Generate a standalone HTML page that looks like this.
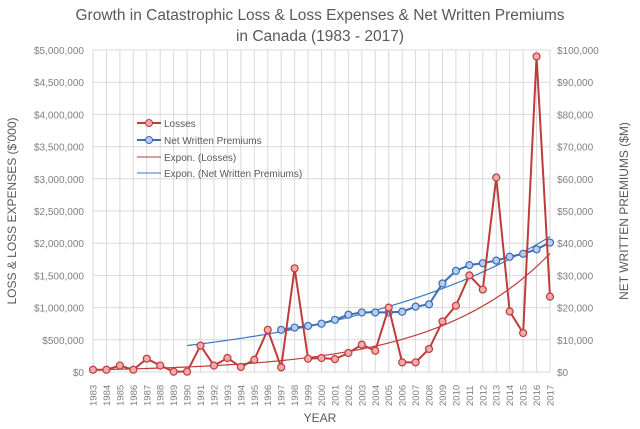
<!DOCTYPE html>
<html><head><meta charset="utf-8"><style>
body{margin:0;background:#fff;}
svg{display:block;font-family:"Liberation Sans",sans-serif;}
</style></head><body>
<svg id="chart" width="640" height="429">
<text x="320" y="20" text-anchor="middle" font-size="15.5" fill="#595959">Growth in Catastrophic Loss &amp; Loss Expenses &amp; Net Written Premiums</text>
<text x="320" y="41" text-anchor="middle" font-size="15.5" fill="#595959">in Canada (1983 - 2017)</text>
<text transform="translate(16,211) rotate(-90)" text-anchor="middle" font-size="12" fill="#595959">LOSS &amp; LOSS EXPENSES ($'000)</text>
<text transform="translate(628,211) rotate(-90)" text-anchor="middle" font-size="12" fill="#595959">NET WRITTEN PREMIUMS ($M)</text>
<text x="320" y="422" text-anchor="middle" font-size="12" fill="#595959">YEAR</text>
<g id="grid"></g><g id="axes"></g><g id="marks"></g>
<g font-size="10" fill="#595959">
<g><line x1="137" y1="123" x2="161" y2="123" stroke="#be3c3c" stroke-width="2"/><circle cx="149" cy="123" r="3.5" fill="#f2aaaa" stroke="#be3c3c"/><text x="164" y="127">Losses</text></g>
<g><line x1="137" y1="140" x2="161" y2="140" stroke="#3b6eb4" stroke-width="2"/><circle cx="149" cy="140" r="3.5" fill="#b5cdf0" stroke="#3b6eb4"/><text x="164" y="144">Net Written Premiums</text></g>
<g><line x1="137" y1="157" x2="161" y2="157" stroke="#c03a3a" stroke-width="1"/><text x="164" y="161">Expon. (Losses)</text></g>
<g><line x1="137" y1="173" x2="161" y2="173" stroke="#3b78c0" stroke-width="1"/><text x="164" y="177">Expon. (Net Written Premiums)</text></g>
</g>
</svg>
<script>
const years=[1983,1984,1985,1986,1987,1988,1989,1990,1991,1992,1993,1994,1995,1996,1997,1998,1999,2000,2001,2002,2003,2004,2005,2006,2007,2008,2009,2010,2011,2012,2013,2014,2015,2016,2017];
const losses=[35000,35000,100000,35000,207000,100000,5000,5000,410000,100000,217000,78000,190000,655000,72000,1610000,207000,217000,200000,295000,425000,330000,1000000,150000,150000,357000,785000,1030000,1500000,1280000,3020000,940000,605000,4900000,1170000];
const nwpYears=[1997,1998,1999,2000,2001,2002,2003,2004,2005,2006,2007,2008,2009,2010,2011,2012,2013,2014,2015,2016,2017];
const nwp=[13100,13800,14300,15000,16200,17800,18500,18500,18500,18700,20300,21000,27500,31400,33200,33800,34600,35800,36700,38100,40200];
const leftTicks=["$0","$500,000","$1,000,000","$1,500,000","$2,000,000","$2,500,000","$3,000,000","$3,500,000","$4,000,000","$4,500,000","$5,000,000"];
const rightTicks=["$0","$10,000","$20,000","$30,000","$40,000","$50,000","$60,000","$70,000","$80,000","$90,000","$100,000"];
const L=93,R=550,T=50,B=372,NS="http://www.w3.org/2000/svg";
const x=yr=>L+(yr-years[0])/(years[years.length-1]-years[0])*(R-L);
const yL=v=>B-v/5000000*(B-T), yR=v=>B-v/100000*(B-T);
function mk(p,t,a){const e=document.createElementNS(NS,t);for(const k in a)e.setAttribute(k,a[k]);p.appendChild(e);return e;}
const grid=document.getElementById('grid'),axes=document.getElementById('axes'),marks=document.getElementById('marks');
for(let i=0;i<leftTicks.length;i++){const y=B-i*(B-T)/10;
const g=mk(grid,'line',{x1:L,x2:R,y1:y,y2:y,stroke:'#d9d9d9','stroke-width':1});

const t=mk(axes,'text',{x:84,y:y+4,'text-anchor':'end','font-size':10,fill:'#7f7f7f'});t.textContent=leftTicks[i];

const t2=mk(axes,'text',{x:557,y:y+4,'font-size':10,fill:'#7f7f7f'});t2.textContent=rightTicks[i];
}
years.forEach(yr=>{const g=mk(grid,'line',{x1:x(yr),x2:x(yr),y1:T,y2:B,stroke:'#d9d9d9','stroke-width':1});

const t=mk(axes,'text',{transform:`translate(${x(yr)+3.5},${B+34}) rotate(-90)`,'font-size':9.5,fill:'#7f7f7f'});t.textContent=yr;
});
function fit(xs,ys){const n=xs.length;let sx=0,sy=0,sxx=0,sxy=0;xs.forEach((a,i)=>{const b=Math.log(Math.max(ys[i],1));sx+=a;sy+=b;sxx+=a*a;sxy+=a*b;});
const m=(n*sxy-sx*sy)/(n*sxx-sx*sx),c=(sy-m*sx)/n;return a=>Math.exp(c+m*a);}
function trend(f,x0,x1,ys,col,name){let d='';for(let a=x0;a<=x1+1e-9;a+=0.25)d+=(d?'L':'M')+x(a)+','+ys(f(a));
const p=mk(marks,'path',{d,fill:'none',stroke:col,'stroke-width':1.2});}
const lf=fit(years.map(v=>v-1983),losses);
trend(a=>lf(a-1983),1983,2017,yL,'#c03a3a','trend-losses');
const nf=fit(nwpYears.map(v=>v-1983),nwp);
trend(a=>nf(a-1983),1990,2017,yR,'#3b78c0','trend-nwp');
function series(xs,vs,ys,col,fill,name){const pl=mk(marks,'polyline',{points:xs.map((a,i)=>x(a)+','+ys(vs[i])).join(' '),fill:'none',stroke:col,'stroke-width':2});

xs.forEach((a,i)=>{const c=mk(marks,'circle',{cx:x(a),cy:ys(vs[i]),r:3.5,fill:fill,stroke:col,'stroke-width':1.2});
});}
series(nwpYears,nwp,yR,'#3b6eb4','#b5cdf0','nwp');
series(years,losses,yL,'#be3c3c','#f2aaaa','losses');
</script>
</body></html>
